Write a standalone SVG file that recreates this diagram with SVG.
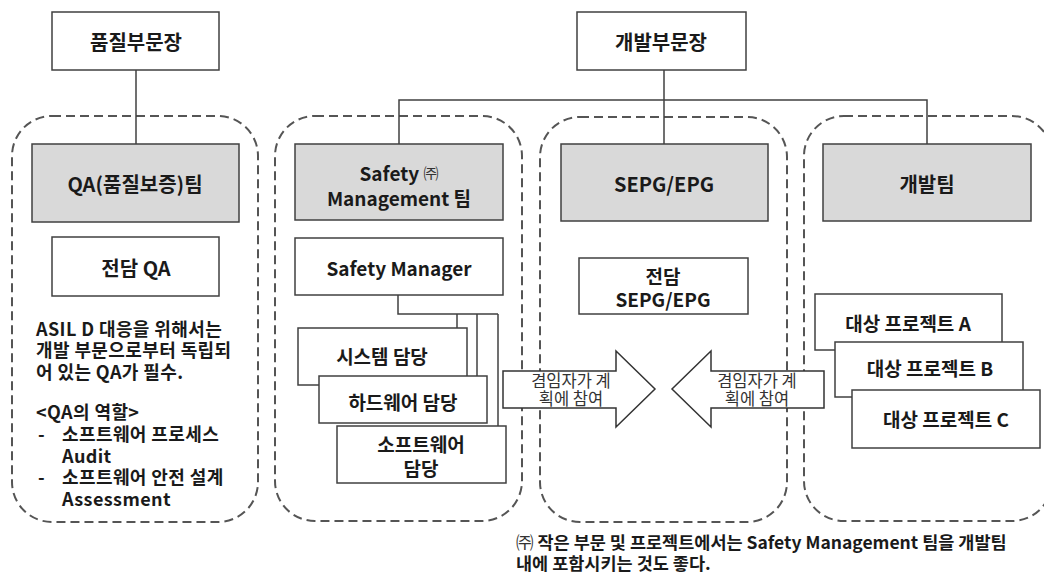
<svg xmlns="http://www.w3.org/2000/svg" width="1044" height="578" viewBox="0 0 1044 578">
<style>
.box{fill:#fff;stroke:#404040;stroke-width:1.5}
.grey{fill:#d9d9d9;stroke:#404040;stroke-width:1.5}
.grp{fill:none;stroke:#555;stroke-width:2;stroke-dasharray:9 5}
.ln{fill:none;stroke:#404040;stroke-width:1.5}
.arr{fill:#fff;stroke:#333;stroke-width:1.5}
text{font-family:"Noto Sans CJK KR","Noto Sans",sans-serif;font-weight:bold;fill:#1a1a1a}
.c{text-anchor:middle;dominant-baseline:central}
.t20{font-size:20px}
.t19{font-size:19px}
.note{font-size:18px;letter-spacing:0.4px}
.reg{font-weight:normal;fill:#333}
.at{font-size:16.5px;font-weight:normal;fill:#333;text-anchor:middle;dominant-baseline:central}
</style>
<rect width="1044" height="578" fill="#fff"/>
<g id="groups">
<rect class="grp" x="12" y="116" width="246" height="406" rx="40" ry="40"/>
<rect class="grp" x="275" y="116" width="247" height="405" rx="40" ry="40"/>
<rect class="grp" x="540" y="117" width="247" height="405" rx="40" ry="40"/>
<rect class="grp" x="804" y="116" width="248" height="405" rx="40" ry="40"/>
</g>
<g id="connectors">
<line class="ln" x1="136" y1="70" x2="136" y2="144"/>
<line class="ln" x1="664" y1="70" x2="664" y2="144"/>
<polyline class="ln" points="399,144 399,100 927,100 927,144"/>
<polyline class="ln" points="398,295 398,314 498,314"/>
<line class="ln" x1="457" y1="314" x2="457" y2="328"/>
<line class="ln" x1="477" y1="314" x2="477" y2="376"/>
<line class="ln" x1="498" y1="314" x2="498" y2="426"/>
</g>
<g id="n-quality-head">
<rect class="box" x="52" y="12" width="167" height="58"/>
<text class="c t20" x="136" y="41">품질부문장</text>
</g>
<g id="n-dev-head">
<rect class="box" x="577" y="12" width="169" height="58"/>
<text class="c t20" x="661" y="41">개발부문장</text>
</g>
<g id="n-qa-team">
<rect class="grey" x="32" y="144" width="207" height="78"/>
<text class="c t20" x="135" y="183">QA(품질보증)팀</text>
</g>
<g id="n-qa-dedicated">
<rect class="box" x="52" y="237" width="167" height="59"/>
<text class="c t20" x="136" y="267">전담 QA</text>
</g>
<g id="n-qa-note">
<text class="note"><tspan x="36" y="336">ASIL D 대응을 위해서는</tspan><tspan x="36" y="357">개발 부문으로부터 독립되</tspan><tspan x="36" y="379">어 있는 QA가 필수.</tspan><tspan x="36" y="419">&lt;QA의 역할&gt;</tspan><tspan x="38" y="441">-</tspan><tspan x="62" y="441">소프트웨어 프로세스</tspan><tspan x="62" y="463">Audit</tspan><tspan x="38" y="484">-</tspan><tspan x="62" y="484">소프트웨어 안전 설계</tspan><tspan x="62" y="506">Assessment</tspan></text>
</g>
<g id="n-safety-team">
<rect class="grey" x="295" y="144" width="208" height="76"/>
<text class="c t19"><tspan x="399" y="172">Safety <tspan class="reg" font-size="15">㈜</tspan></tspan><tspan x="399" y="197">Management 팀</tspan></text>
</g>
<g id="n-safety-manager">
<rect class="box" x="295" y="238" width="208" height="57"/>
<text class="c t19" x="399" y="267">Safety Manager</text>
</g>
<g id="n-system">
<rect class="box" x="298" y="328" width="169" height="57"/>
<text class="c t19" x="382" y="355">시스템 담당</text>
</g>
<g id="n-hardware">
<rect class="box" x="319" y="376" width="168" height="47"/>
<text class="c t19" x="403" y="401">하드웨어 담당</text>
</g>
<g id="n-software">
<rect class="box" x="337" y="426" width="169" height="57"/>
<text class="c t19"><tspan x="421" y="443">소프트웨어</tspan><tspan x="421" y="467">담당</tspan></text>
</g>
<g id="n-sepg">
<rect class="grey" x="561" y="144" width="207" height="77"/>
<text class="c t20" x="664" y="183">SEPG/EPG</text>
</g>
<g id="n-sepg-dedicated">
<rect class="box" x="579" y="258" width="169" height="56"/>
<text class="c t19"><tspan x="663" y="275">전담</tspan><tspan x="663" y="298">SEPG/EPG</tspan></text>
</g>
<g id="n-dev-team">
<rect class="grey" x="823" y="144" width="208" height="77"/>
<text class="c t20" x="927" y="183">개발팀</text>
</g>
<g id="n-proj-a">
<rect class="box" x="815" y="294" width="187" height="56"/>
<text class="c t19" x="908" y="322">대상 프로젝트 A</text>
</g>
<g id="n-proj-b">
<rect class="box" x="835" y="342" width="188" height="55"/>
<text class="c t19" x="930" y="367">대상 프로젝트 B</text>
</g>
<g id="n-proj-c">
<rect class="box" x="852" y="390" width="188" height="58"/>
<text class="c t19" x="946" y="418">대상 프로젝트 C</text>
</g>
<g id="n-arrow-right">
<polygon class="arr" points="503,371 616,371 616,351 655,389 616,427 616,408 503,408"/>
<text class="at"><tspan x="571" y="380">겸임자가 계</tspan><tspan x="571" y="398">획에 참여</tspan></text>
</g>
<g id="n-arrow-left">
<polygon class="arr" points="824,371 711,371 711,351 672,389 711,427 711,408 824,408"/>
<text class="at"><tspan x="757" y="380">겸임자가 계</tspan><tspan x="757" y="398">획에 참여</tspan></text>
</g>
<g id="n-footnote">
<text font-size="17.5"><tspan x="516" y="549"><tspan class="reg">㈜</tspan> 작은 부문 및 프로젝트에서는 Safety Management 팀을 개발팀</tspan><tspan x="516" y="570">내에 포함시키는 것도 좋다.</tspan></text>
</g>
</svg>
